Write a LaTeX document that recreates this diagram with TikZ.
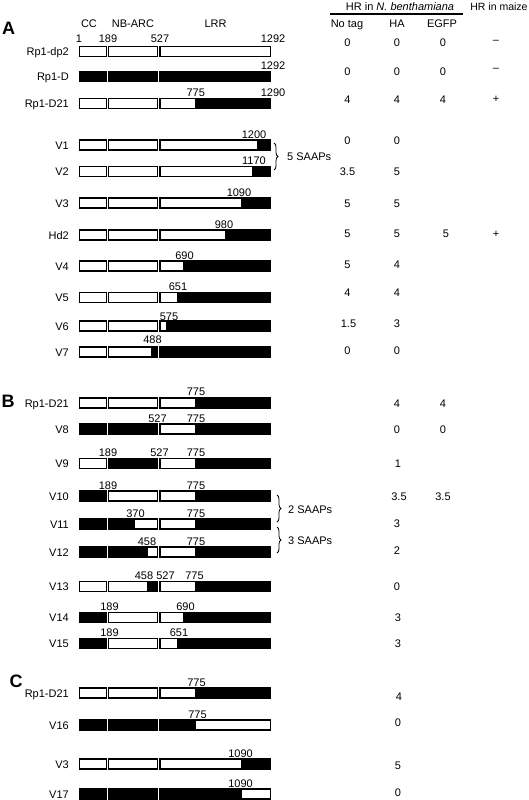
\documentclass[tikz,border=0pt]{standalone}
\usepackage{fontspec}
\setmainfont{Liberation Sans}
\usetikzlibrary{decorations.pathreplacing}

\begin{document}
\begin{tikzpicture}[x=1pt,y=-1pt,
  declare function={nb(\a)=108.8+(\a-189)*0.14408; lr(\a)=160+(\a-527)*0.14444;},
  font=\fontsize{11}{13}\selectfont]
\tikzstyle{dom} = [draw=black, fill=white, line width=1.2pt]
\tikzstyle{blk} = [draw=black, fill=black, line width=1.2pt]
\tikzstyle{rowname} = [anchor=base east, inner sep=0pt]
\tikzstyle{resno} = [anchor=base, inner sep=0pt]
\tikzstyle{score} = [anchor=base, inner sep=0pt]
\tikzstyle{panel} = [anchor=base, inner sep=0pt, font=\fontsize{18}{20}\selectfont\bfseries]
\tikzstyle{saap} = [draw, line width=0.8pt, decorate, decoration={brace, amplitude=4pt}]
\useasboundingbox (0,0) rectangle (529,800);

% panel letters
\node[panel] (pa) at (8.5,35) {A};
\node[panel] (pb) at (8,407) {B};
\node[panel] (pc) at (16,687) {C};

% domain headers
\node[resno] (cc) at (89,28) {CC};
\node[resno] (nbarc) at (133,28) {NB-ARC};
\node[resno] (lrr) at (215.5,28) {LRR};

% HR columns
\node[resno] (hrnb) at (400,11) {HR in \textit{N. benthamiana}};
\draw[line width=1.5pt] (330,14) -- (463,14);
\node[resno, font=\fontsize{10.5}{12}\selectfont] (hrmz) at (499,11) {HR in maize};
\node[resno] (notag) at (347,28) {No tag};
\node[resno] (ha) at (397,28) {HA};
\node[resno] (egfp) at (442,28) {EGFP};

% construct names
\foreach \n/\t/\y in {dp2/Rp1-dp2/51.5, rpd/Rp1-D/76.5, da/Rp1-D21/103.5,
  v1/V1/145, v2/V2/171.7, v3a/V3/203, hd2/Hd2/235, v4/V4/266, v5/V5/297.5,
  v6/V6/326, v7/V7/352, db/Rp1-D21/403, v8/V8/429, v9/V9/463.5, v10/V10/496,
  v11/V11/524, v12/V12/552, v13/V13/586.5, v14/V14/617.5, v15/V15/643.5,
  dc/Rp1-D21/693, v16/V16/725, v3c/V3/764, v17/V17/794}
  \node[rowname] (\n) at (69,\y+4) {\t};

% white domain boxes
\foreach \y in {51.5,76.5,103.5,145,171.7,203,235,266,297.5,326,352,403,429,
  463.5,496,524,552,586.5,617.5,643.5,693,725,764,794}{
  \draw[dom] (79.5,\y-5) rectangle (106.2,\y+5);
  \draw[dom] (108.8,\y-5) rectangle (157.5,\y+5);
  \draw[dom] (160,\y-5) rectangle (270.5,\y+5);
}

% black (Rp1-D derived) parts
\foreach \y/\a/\b in {76.5/79.5/106.2, 76.5/108.8/157.5, 76.5/160/270.5,
  103.5/lr(775)/270.5, 145/lr(1200)/270.5, 171.7/lr(1170)/270.5,
  203/lr(1090)/270.5, 235/lr(980)/270.5, 266/lr(690)/270.5,
  297.5/lr(651)/270.5, 326/lr(575)/270.5, 352/nb(488)/157.5, 352/160/270.5,
  403/lr(775)/270.5,
  429/79.5/106.2, 429/108.8/157.5, 429/lr(775)/270.5,
  463.5/108.8/157.5, 463.5/lr(775)/270.5,
  496/79.5/106.2, 496/lr(775)/270.5,
  524/79.5/106.2, 524/108.8/nb(370), 524/lr(775)/270.5,
  552/79.5/106.2, 552/108.8/nb(458), 552/lr(775)/270.5,
  586.5/nb(458)/157.5, 586.5/lr(775)/270.5,
  617.5/79.5/106.2, 617.5/lr(690)/270.5,
  643.5/79.5/106.2, 643.5/lr(651)/270.5,
  693/lr(775)/270.5,
  725/79.5/106.2, 725/108.8/157.5, 725/160/lr(775),
  764/lr(1090)/270.5,
  794/79.5/106.2, 794/108.8/157.5, 794/160/lr(1090)}
  \filldraw[blk] ({\a},\y-5) rectangle ({\b},\y+5);

% residue positions
\foreach \x/\y/\t [count=\i] in {79/42.5/1, 108/42.5/189, 160/42.5/527, 273/42.5/1292,
  273/69.5/1292, 195.8/96.5/775, 273/96.5/1290,
  254/138/1200, 254/164.7/1170, 239/196/1090, 224/228/980, 184.5/259/690,
  178/290.5/651, 169/320/575, 152.5/343/488,
  196/395/775, 157.5/422.5/527, 196/422.5/775,
  108/456.5/189, 159.5/456.5/527, 196/456.5/775,
  108/489/189, 196/489/775, 135.5/517/370, 196/517/775,
  147/545/458, 196/545/775, 144/579.5/458, 165.5/579.5/527, 194.5/579.5/775,
  109.5/610.5/189, 185.5/610.5/690, 109.5/636.5/189, 179/636.5/651,
  196.5/686/775, 197.5/718/775, 240.5/757/1090, 240.5/787/1090}
  \node[resno] (p\i) at (\x,\y) {\t};

% HR scores
\foreach \x/\y/\t [count=\i] in {347.5/47/0, 397/47/0, 443/47/0, 496/44/\textendash,
  347.5/75/0, 397/75/0, 443/75/0, 496/71/\textendash,
  347.5/103/4, 397/103/4, 443/103/4, 496/102/+,
  347.5/144/0, 397/144/0, 347.5/175.5/3.5, 397/175.5/5,
  347.5/207.5/5, 397/207.5/5,
  347.5/237.5/5, 397/237.5/5, 446/237.5/5, 496/237/+,
  347.5/268.5/5, 397/268.5/4, 347.5/296/4, 397/296/4,
  348.5/327/1.5, 397/327/3, 347.5/354/0, 397/354/0,
  397/407/4, 443/407/4, 397/433/0, 443/433/0,
  398/467/1, 399/500/3.5, 443/500/3.5, 397/527/3, 397/554/2, 397/590/0,
  398/621/3, 398/647/3, 399/700/4, 398/726/0, 398/769/5, 398/796/0}
  \node[score] (s\i) at (\x,\y) {\t};

% SAAP braces
\coordinate (b5t) at (274,143);
\coordinate (b5b) at (274,170);
\coordinate (b2t) at (277,495);
\coordinate (b2b) at (277,522);
\coordinate (b3t) at (277,527);
\coordinate (b3b) at (277,553);
\draw[saap] (b5t) -- (b5b);
\draw[saap] (b2t) -- (b2b);
\draw[saap] (b3t) -- (b3b);
\node[anchor=base west, inner sep=0pt] (s5) at (287,160) {5 SAAPs};
\node[anchor=base west, inner sep=0pt] (s2) at (288,513) {2 SAAPs};
\node[anchor=base west, inner sep=0pt] (s3) at (288,544) {3 SAAPs};
\end{tikzpicture}
\end{document}
